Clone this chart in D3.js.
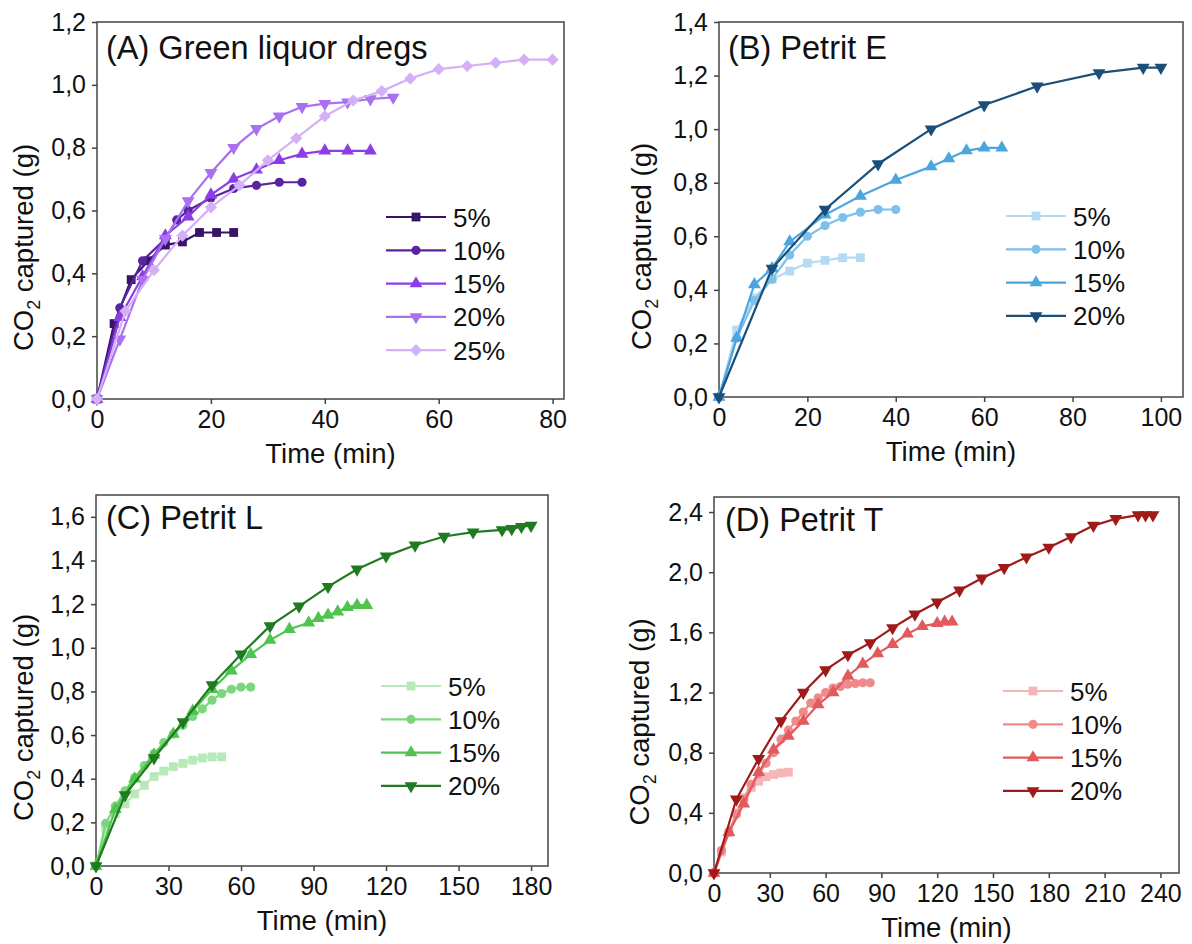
<!DOCTYPE html>
<html>
<head>
<meta charset="utf-8">
<script src="https://cdn.jsdelivr.net/npm/d3@7"></script>
<style>
  body { margin: 0; background: #fff; }
  text { font-family: Arial, "Liberation Sans", sans-serif; fill: #111; }
</style>
</head>
<body>
<script>
// series labels (legend)
var labelsA = ["5%", "10%", "15%", "20%", "25%"];
var labelsBCD = ["5%", "10%", "15%", "20%"];

// (A) Green liquor dregs
var timeA = [
    [0, 3, 6, 9, 12, 15, 18, 21, 24],
    [0, 4, 8, 12, 14, 16, 20, 24, 28, 32, 36],
    [0, 4, 8, 12, 16, 20, 24, 28, 32, 36, 40, 44, 48],
    [0, 4, 8, 12, 16, 20, 24, 28, 32, 36, 40, 44, 48, 52],
    [0, 5, 10, 15, 20, 25, 30, 35, 40, 45, 50, 55, 60, 65, 70, 75, 80]
];
var co2A = [
    [0, 0.24, 0.38, 0.44, 0.49, 0.50, 0.53, 0.53, 0.53],
    [0, 0.29, 0.44, 0.51, 0.57, 0.60, 0.64, 0.67, 0.68, 0.69, 0.69],
    [0, 0.26, 0.39, 0.52, 0.58, 0.65, 0.70, 0.73, 0.76, 0.78, 0.79, 0.79, 0.79],
    [0, 0.19, 0.38, 0.51, 0.63, 0.72, 0.80, 0.86, 0.90, 0.93, 0.94, 0.945, 0.955, 0.96],
    [0, 0.28, 0.41, 0.52, 0.61, 0.68, 0.76, 0.83, 0.90, 0.95, 0.98, 1.02, 1.05, 1.06, 1.07, 1.08, 1.08]
];

// (B) Petrit E
var timeB = [
    [0, 4, 8, 12, 16, 20, 24, 28, 32],
    [0, 4, 8, 12, 16, 20, 24, 28, 32, 36, 40],
    [0, 4, 8, 12, 16, 24, 32, 40, 48, 52, 56, 60, 64],
    [0, 12, 24, 36, 48, 60, 72, 86, 96, 100]
];
var co2B = [
    [0, 0.25, 0.37, 0.44, 0.47, 0.50, 0.51, 0.52, 0.52],
    [0, 0.22, 0.36, 0.44, 0.53, 0.60, 0.64, 0.67, 0.69, 0.70, 0.70],
    [0, 0.22, 0.42, 0.48, 0.58, 0.68, 0.75, 0.81, 0.86, 0.89, 0.92, 0.93, 0.93],
    [0, 0.48, 0.70, 0.87, 1.00, 1.09, 1.16, 1.21, 1.23, 1.23]
];

// (C) Petrit L
var timeC = [
    [0, 4, 8, 12, 16, 20, 24, 28, 32, 36, 40, 44, 48, 52],
    [0, 4, 8, 12, 16, 20, 24, 28, 32, 36, 40, 44, 48, 52, 56, 60, 64],
    [0, 8, 16, 24, 32, 40, 48, 56, 64, 72, 80, 88, 92, 96, 100, 104, 108, 112],
    [0, 12, 24, 36, 48, 60, 72, 84, 96, 108, 120, 132, 144, 156, 168, 172, 176, 180]
];
var co2C = [
    [0, 0.17, 0.24, 0.285, 0.33, 0.37, 0.41, 0.435, 0.455, 0.47, 0.485, 0.495, 0.50, 0.50],
    [0, 0.195, 0.275, 0.345, 0.405, 0.46, 0.515, 0.565, 0.605, 0.645, 0.685, 0.72, 0.76, 0.79, 0.81, 0.82, 0.82],
    [0, 0.26, 0.40, 0.51, 0.605, 0.71, 0.81, 0.895, 0.97, 1.035, 1.085, 1.115, 1.135, 1.15, 1.165, 1.185, 1.195, 1.195],
    [0, 0.325, 0.495, 0.66, 0.83, 0.97, 1.10, 1.19, 1.28, 1.36, 1.42, 1.47, 1.51, 1.53, 1.54, 1.545, 1.555, 1.56]
];

// (D) Petrit T
var timeD = [
    [0, 4, 8, 12, 16, 20, 24, 28, 32, 36, 40],
    [0, 4, 8, 12, 16, 20, 24, 28, 32, 36, 40, 44, 48, 52, 56, 60, 64, 68, 72, 76, 80, 84],
    [0, 8, 16, 24, 32, 40, 48, 56, 64, 72, 80, 88, 96, 104, 112, 120, 124, 128],
    [0, 12, 24, 36, 48, 60, 72, 84, 96, 108, 120, 132, 144, 156, 168, 180, 192, 204, 216, 228, 232, 236]
];
var co2D = [
    [0, 0.14, 0.27, 0.40, 0.50, 0.57, 0.61, 0.64, 0.655, 0.665, 0.67],
    [0, 0.15, 0.27, 0.39, 0.49, 0.59, 0.66, 0.73, 0.80, 0.89, 0.95, 1.01, 1.07, 1.13, 1.165, 1.20, 1.23, 1.24, 1.255, 1.26, 1.265, 1.265],
    [0, 0.27, 0.46, 0.67, 0.82, 0.91, 1.01, 1.12, 1.20, 1.31, 1.39, 1.46, 1.52, 1.59, 1.64, 1.66, 1.67, 1.67],
    [0, 0.49, 0.76, 1.01, 1.20, 1.35, 1.45, 1.53, 1.63, 1.72, 1.80, 1.88, 1.96, 2.03, 2.10, 2.165, 2.235, 2.31, 2.355, 2.38, 2.38, 2.38]
];

// tick values
var xTicksA = [0, 20, 40, 60, 80];
var yTicksA = [0, 0.2, 0.4, 0.6, 0.8, 1.0, 1.2];
var xTicksB = [0, 20, 40, 60, 80, 100];
var yTicksB = [0, 0.2, 0.4, 0.6, 0.8, 1.0, 1.2, 1.4];
var xTicksC = [0, 30, 60, 90, 120, 150, 180];
var yTicksC = [0, 0.2, 0.4, 0.6, 0.8, 1.0, 1.2, 1.4, 1.6];
var xTicksD = [0, 30, 60, 90, 120, 150, 180, 210, 240];
var yTicksD = [0, 0.4, 0.8, 1.2, 1.6, 2.0, 2.4];

var colorsA = ["#381468", "#5a24a0", "#8c3ee6", "#a970f2", "#d4b0f7"];
var colorsB = ["#b5dbf3", "#7dc0ea", "#4aa5e0", "#1b4f79"];
var colorsC = ["#b8e9b8", "#7dd67d", "#4fc44f", "#207a20"];
var colorsD = ["#f6b6b8", "#ee8a8c", "#e35a5c", "#a01a1a"];

// square, circle, up-triangle, down-triangle, diamond
var shapes = ["square", "circle", "up", "down", "diamond"];

var panels = [
    { title: "(A) Green liquor dregs", left: 97, right: 564, top: 22, bottom: 399, xMax: 82, yMax: 1.2,
      xTicks: xTicksA, yTicks: yTicksA, times: timeA, values: co2A, colors: colorsA, labels: labelsA,
      legX: 386, legY: 217, titleX: 106, titleY: 59, yTitleX: 33 },
    { title: "(B) Petrit E", left: 719, right: 1183, top: 22, bottom: 397, xMax: 105, yMax: 1.4,
      xTicks: xTicksB, yTicks: yTicksB, times: timeB, values: co2B, colors: colorsB, labels: labelsBCD,
      legX: 1006, legY: 216, titleX: 728, titleY: 59, yTitleX: 651 },
    { title: "(C) Petrit L", left: 96, right: 548, top: 495, bottom: 866, xMax: 187, yMax: 1.7,
      xTicks: xTicksC, yTicks: yTicksC, times: timeC, values: co2C, colors: colorsC, labels: labelsBCD,
      legX: 381, legY: 686, titleX: 106, titleY: 529, yTitleX: 33 },
    { title: "(D) Petrit T", left: 714, right: 1179, top: 497, bottom: 873, xMax: 250, yMax: 2.5,
      xTicks: xTicksD, yTicks: yTicksD, times: timeD, values: co2D, colors: colorsD, labels: labelsBCD,
      legX: 1003, legY: 691, titleX: 725, titleY: 531, yTitleX: 649 }
];

var svg = d3.select("body").append("svg")
    .attr("width", 1192)
    .attr("height", 944);

svg.append("rect").attr("width", 1192).attr("height", 944).attr("fill", "#fff");

var comma = function (d) { return d3.format(".1f")(d).replace(".", ","); };

function markerPath(shape) {
    if (shape === "square") return d3.symbol().type(d3.symbolSquare).size(78)();
    if (shape === "circle") return d3.symbol().type(d3.symbolCircle).size(66)();
    if (shape === "diamond") return d3.symbol().type(d3.symbolSquare).size(74)();
    return d3.symbol().type(d3.symbolTriangle).size(72)();
}
function markerRotate(shape) {
    if (shape === "down") return " rotate(180)";
    if (shape === "diamond") return " rotate(45)";
    return "";
}

panels.forEach(function (p) {
    var x = d3.scaleLinear().domain([0, p.xMax]).range([p.left, p.right]);
    var y = d3.scaleLinear().domain([0, p.yMax]).range([p.bottom, p.top]);

    var g = svg.append("g");

    // x axis
    var xa = g.append("g")
        .attr("transform", "translate(0," + p.bottom + ")")
        .call(d3.axisBottom(x).tickValues(p.xTicks).tickSize(5).tickPadding(6).tickFormat(d3.format("d")));
    // y axis
    var ya = g.append("g")
        .attr("transform", "translate(" + p.left + ",0)")
        .call(d3.axisLeft(y).tickValues(p.yTicks).tickSize(5).tickPadding(6).tickFormat(comma));

    [xa, ya].forEach(function (a) {
        a.select(".domain").remove();
        a.selectAll("line").attr("stroke", "#444").attr("stroke-width", 1.5);
        a.selectAll("text").attr("font-size", 25).attr("fill", "#111")
            .attr("font-family", "Arial, 'Liberation Sans', sans-serif");
    });

    // frame
    g.append("rect")
        .attr("x", p.left).attr("y", p.top)
        .attr("width", p.right - p.left).attr("height", p.bottom - p.top)
        .attr("fill", "none").attr("stroke", "#444").attr("stroke-width", 1.5);

    // axis titles
    g.append("text")
        .attr("x", (p.left + p.right) / 2).attr("y", p.bottom + 64)
        .attr("text-anchor", "middle").attr("font-size", 27.5)
        .text("Time (min)");

    var yt = g.append("text")
        .attr("transform", "translate(" + p.yTitleX + "," + ((p.top + p.bottom) / 2 + 37) + ") rotate(-90)")
        .attr("text-anchor", "middle").attr("font-size", 27.5);
    yt.append("tspan").text("CO");
    yt.append("tspan").attr("font-size", 18).attr("dy", 7).text("2");
    yt.append("tspan").attr("dy", -7).text(" captured (g)");

    // panel title
    g.append("text")
        .attr("x", p.titleX).attr("y", p.titleY)
        .attr("font-size", 32.5)
        .text(p.title);

    // series
    var line = d3.line()
        .x(function (d) { return x(d[0]); })
        .y(function (d) { return y(d[1]); });

    p.times.forEach(function (ts, i) {
        var pts = ts.map(function (t, j) { return [t, p.values[i][j]]; });
        var col = p.colors[i];
        var s = g.append("g");
        s.append("path")
            .datum(pts)
            .attr("d", line)
            .attr("fill", "none")
            .attr("stroke", col)
            .attr("stroke-width", 2.2);
        s.selectAll("path.mk")
            .data(pts)
            .enter().append("path")
            .attr("class", "mk")
            .attr("d", markerPath(shapes[i]))
            .attr("transform", function (d) {
                return "translate(" + x(d[0]) + "," + y(d[1]) + ")" + markerRotate(shapes[i]);
            })
            .attr("fill", col);
    });

    // legend
    p.labels.forEach(function (lab, i) {
        var ly = p.legY + i * 33.3;
        var col = p.colors[i];
        g.append("line")
            .attr("x1", p.legX).attr("x2", p.legX + 60)
            .attr("y1", ly).attr("y2", ly)
            .attr("stroke", col).attr("stroke-width", 2.2);
        g.append("path")
            .attr("d", markerPath(shapes[i]))
            .attr("transform", "translate(" + (p.legX + 30) + "," + ly + ")" + markerRotate(shapes[i]))
            .attr("fill", col);
        g.append("text")
            .attr("x", p.legX + 67).attr("y", ly + 9.5)
            .attr("font-size", 26)
            .text(lab);
    });
});
</script>
</body>
</html>
